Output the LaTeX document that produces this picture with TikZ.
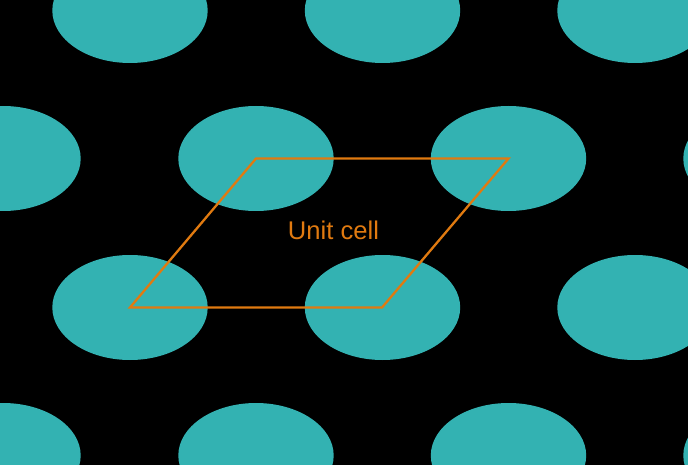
\documentclass[tikz,border=0pt]{standalone}
\usepackage{fontspec}
\setmainfont{Liberation Sans}
\definecolor{teal1}{RGB}{51,178,178}
\definecolor{org}{RGB}{224,122,16}
\tikzset{x=1pt,y=-1pt,blob/.style={fill=teal1,draw=none},cell/.style={draw=org,line width=2.3pt,line join=miter}}
\begin{document}
\begin{tikzpicture}
\useasboundingbox (0,0) rectangle (688,465);
\fill[black] (0,0) rectangle (688,465);
\clip (0,0) rectangle (688,465);
\foreach \cx in {130,382.5,635}{
  \fill[blob] (\cx,10.5) ellipse [x radius=77.7,y radius=52.5];
  \fill[blob] (\cx,307.5) ellipse [x radius=77.7,y radius=52.5];
}
\foreach \cx in {3,256,508.5,761}{
  \fill[blob] (\cx,158.5) ellipse [x radius=77.7,y radius=52.5];
  \fill[blob] (\cx,455.5) ellipse [x radius=77.7,y radius=52.5];
}
\coordinate (a) at (130,307.5);
\coordinate (b) at (382,307.5);
\coordinate (c) at (508.5,158.5);
\coordinate (d) at (256,158.5);
\draw[cell] (a) -- (b) -- (c) -- (d) -- cycle;
\node[text=org,font=\fontsize{25.6pt}{28pt}\selectfont,inner sep=0pt] (lbl) at (333.5,230) {Unit cell};
\end{tikzpicture}
\end{document}
